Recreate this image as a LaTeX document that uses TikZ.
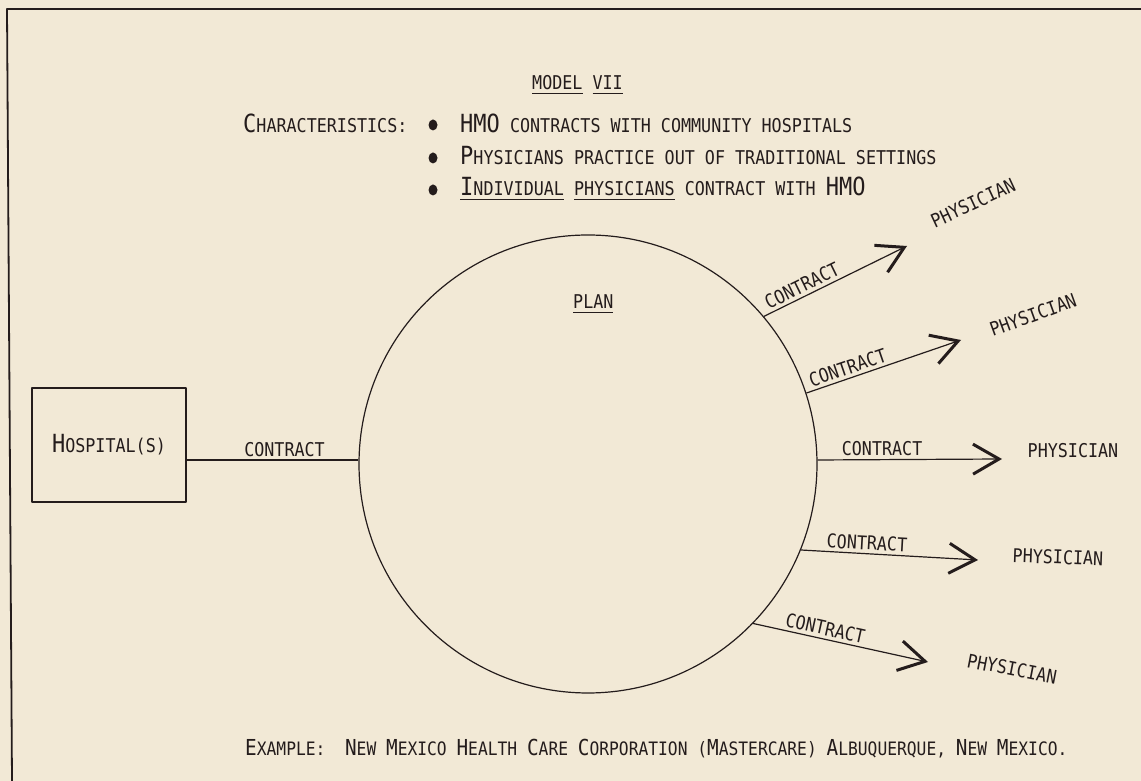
\documentclass[tikz,border=0pt]{standalone}
\usepackage{fontspec}
\newfontfamily\lettering[FakeStretch=0.88]{DejaVu Sans Mono}
\usepackage{xcolor}
\usetikzlibrary{
	arrows.meta,
	positioning
}
\definecolor{paper}{RGB}{242,233,214}
\definecolor{ink}{RGB}{36,28,28}
\newcommand{\initcap}[1]{{\fontsize{25}{27}\selectfont #1}}
\newcommand{\ulword}[1]{{\setbox0=\hbox{#1}\rlap{\rule[-4.5pt]{\wd0}{1.3pt}}\box0}}

\begin{document}
\begin{tikzpicture}[x=1pt, y=1pt, line join=round,
		every node/.style={font=\lettering\fontsize{19}{22}\selectfont, text=ink, inner sep=0pt},
		wire/.style={draw=ink, line width=1.2pt},
		contract/.style={wire, -{Straight Barb[length=26pt, width=30pt, line width=3pt]}},
		lbl/.style={sloped, above=3pt}]
		\useasboundingbox (0,0) rectangle (1141,781);
		\fill[paper] (0,0) rectangle (1141,781);
		
		% frame
		\draw[ink, line width=1.8pt] (1141,772) -- (7,772) -- (12,0);
		
		% heading
		\node[anchor=base west] (title) at (532,691) {\ulword{MODEL} \ulword{VII}};
		\node[anchor=base west] (chars) at (243,648) {\initcap{C}HARACTERISTICS:};
		\node[anchor=base west] (item1) at (460,648) {\initcap{HMO} CONTRACTS WITH COMMUNITY HOSPITALS};
		\node[anchor=base west] (item2) at (460,616) {\initcap{P}HYSICIANS PRACTICE OUT OF TRADITIONAL SETTINGS};
		\node[anchor=base west] (item3) at (460,585) {\ulword{\initcap{I}NDIVIDUAL} \ulword{PHYSICIANS} CONTRACT WITH \initcap{HMO}};
		\fill[ink] (433,656) ellipse (4.5 and 5.5);
		\fill[ink] (433,623) ellipse (4.5 and 5.5);
		\fill[ink] (433,591) ellipse (4.5 and 5.5);
		
		% plan and hospital
		\node[circle, wire, minimum size=458pt] (plan) at (588,317) {};
		\node[anchor=base west] (planlbl) at (573,472) {\ulword{PLAN}};
		\node[wire, minimum width=154pt, minimum height=114pt] (hosp) at (109,336) {\initcap{H}OSPITAL(S)};
		\draw[wire] (hosp.east |- plan.179) -- node[above=3pt, pos=0.57] (c0) {CONTRACT} (plan.179);
		
		% physicians
		\coordinate (tip1) at (907,535);
		\coordinate (tip2) at (961,441);
		\coordinate (tip3) at (1002,322);
		\coordinate (tip4) at (978,221);
		\coordinate (tip5) at (928,119);
		\node[rotate=25] (phys1) at (973,578) {PHYSICIAN};
		\node[rotate=20] (phys2) at (1033,466) {PHYSICIAN};
		\node (phys3) at (1073,330) {PHYSICIAN};
		\node[rotate=-2] (phys4) at (1058,224) {PHYSICIAN};
		\node[rotate=-11] (phys5) at (1012,112) {PHYSICIAN};
		
		\draw[contract] (plan.40) -- node[lbl, pos=0.3] (c1) {CONTRACT} (tip1);
		\draw[contract] (plan.18) -- node[lbl, pos=0.29] (c2) {CONTRACT} (tip2);
		\draw[contract] (plan.1) -- node[lbl, pos=0.35] (c3) {CONTRACT} (tip3);
		\draw[contract] (plan.-22) -- node[lbl, pos=0.37] (c4) {CONTRACT} (tip4);
		\draw[contract] (plan.-44) -- node[lbl, pos=0.4] (c5) {CONTRACT} (tip5);
		
		% example
		\node[anchor=base west, font=\lettering\fontsize{18.5}{21}\selectfont] (example) at (245,25)
			{{\fontsize{22}{24}\selectfont E}XAMPLE:\ \ {\fontsize{22}{24}\selectfont N}EW {\fontsize{22}{24}\selectfont M}EXICO {\fontsize{22}{24}\selectfont H}EALTH {\fontsize{22}{24}\selectfont C}ARE {\fontsize{22}{24}\selectfont C}ORPORATION ({\fontsize{22}{24}\selectfont M}ASTERCARE) {\fontsize{22}{24}\selectfont A}LBUQUERQUE, {\fontsize{22}{24}\selectfont N}EW {\fontsize{22}{24}\selectfont M}EXICO.};
	\end{tikzpicture}
\end{document}
